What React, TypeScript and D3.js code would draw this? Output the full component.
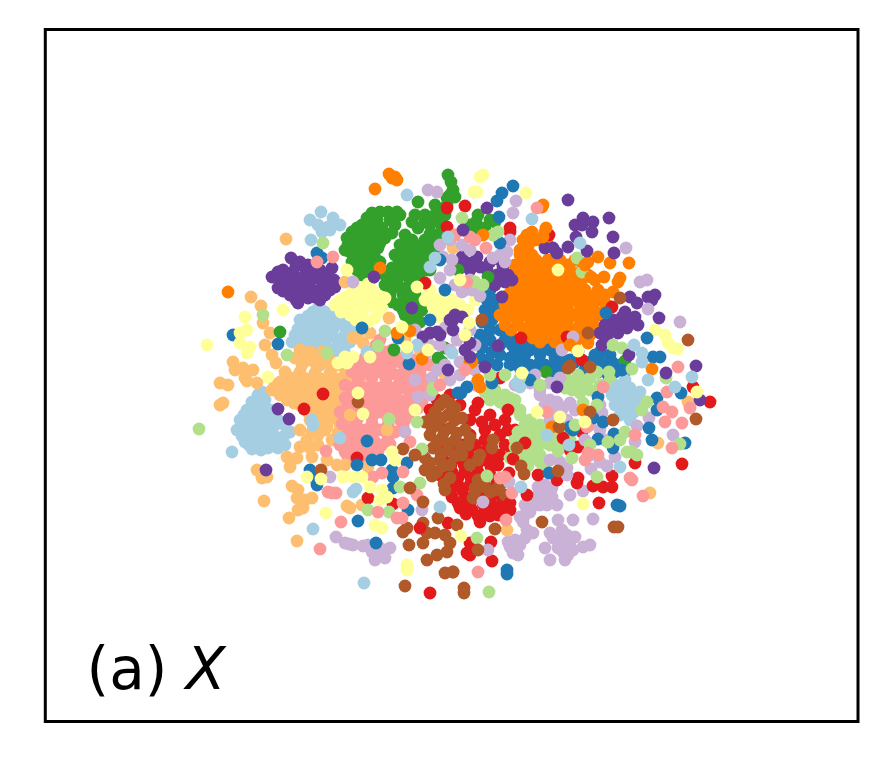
import React from "react";
import * as d3 from "d3";

type P = [number, number];

const lightBlueCore: P[] = [[321,212],[310,220],[318,225],[328,227],[340,225],[333,218],[322,232],[311,240],[330,230],
[313,312],[325,312],[303,325],[315,322],[328,322],[340,322],[295,335],[308,335],[320,335],[332,335],[345,335],[352,328],[300,345],[312,345],[325,345],[338,345],[350,342],[310,355],[322,355],[335,355],[320,365],[318,360],
[258,395],[265,400],[247,410],[258,410],[270,410],[240,420],[252,420],[265,420],[278,420],[285,425],[237,430],[248,432],[260,432],[272,432],[284,436],[245,442],[258,442],[270,442],[285,445],[249,445],[261,450],
[625,380],[615,385],[630,388],[640,392],[612,395],[625,398],[637,402],[615,405],[628,410],[620,415],[630,420],[634,412],
[319,306],[308,316],[320,317],[334,317],[346,322],[298,329],[310,328],[322,328],[334,328],[346,328],[302,338],[314,340],[326,340],[338,340],[350,335],[305,350],[318,350],[330,350],[344,350],[315,360],[328,360],[292,342],[300,320],
[252,402],[262,405],[244,415],[256,415],[268,415],[275,425],[246,426],[258,426],[270,426],[242,436],[254,437],[266,437],[278,438],[252,449],[268,448],[278,448],[290,432],[262,392],
[622,392],[633,395],[620,400],[630,404],[623,408],[612,390]];
const lightBlueStray: P[] = [[232,452],[313,529],[364,583],[353,492],[356,489],[340,438],[312,420],[313,425],[440,507],[407,195],[448,237],[367,352],[407,353],[417,345],[452,353],[430,267],[435,258],[532,219],[580,243],[634,345],[642,353],[642,362],[617,387],[648,380],[692,377],[675,387],[517,383],[520,387],[521,487],[569,445],[620,467],[547,435]];

const blueCore: P[] = [[490,290],[497,300],[485,310],[492,320],[500,330],[480,335],[490,340],[500,345],[510,335],[520,345],[530,350],[540,355],[550,350],[560,355],[500,355],[510,358],[520,360],[530,365],[545,365],[555,365],[570,360],[482,348],[492,352],[600,352],[610,355],[620,365],[605,368],[615,372],[600,362],[625,372],[585,370],[578,352],
[487,300],[492,310],[482,322],[490,330],[478,342],[505,340],[515,350],[525,355],[535,345],[545,345],[555,358],[565,365],[575,362],[510,365],[520,368],[535,372],[550,372],[505,325],[512,345],[497,365],[488,360],[480,358],[590,362],[598,372],[612,362],[608,375],[595,355],[560,370],[540,362],[525,345],[500,312],[490,278],[488,285]];
const blueStray: P[] = [[513,186],[502,193],[497,201],[499,217],[500,243],[606,313],[647,338],[653,357],[660,357],[622,370],[492,382],[530,380],[317,253],[322,258],[233,335],[278,344],[440,260],[430,320],[445,290],[362,328],[398,338],[409,364],[310,470],[317,485],[315,478],[357,465],[372,460],[381,460],[367,441],[392,470],[393,477],[393,488],[358,521],[407,463],[408,510],[376,543],[458,393],[507,574],[507,570],[620,506],[617,505],[573,430],[570,427],[598,397],[657,398],[657,410],[649,428],[652,440],[681,393],[614,434],[598,439],[593,418],[603,422],[613,448],[685,443],[549,473],[461,393],[467,387],[492,383]];

const lightGreenCore: P[] = [[485,392],[495,390],[505,395],[515,400],[490,400],[500,402],[520,415],[530,420],[540,425],[525,430],[535,435],[515,440],[530,445],[545,440],[520,455],[530,460],[540,455],[545,465],[550,445],[563,435],[570,440],[568,380],[578,375],[585,385],[572,390],[590,378],[565,388],[580,393],
[490,395],[500,396],[510,398],[525,425],[535,428],[518,432],[527,438],[538,445],[525,450],[535,452],[515,447],[510,458],[545,432],[555,442],[528,466],[540,462],[572,383],[582,380],[576,387],[566,383],[553,435],[560,445],[590,390],[600,385],[610,380],[520,410],[505,405],[512,403]];
const lightGreenStray: P[] = [[323,243],[263,315],[287,355],[327,353],[385,331],[378,346],[433,388],[199,429],[389,419],[417,422],[368,510],[389,512],[400,487],[420,483],[422,449],[433,390],[489,592],[487,476],[477,538],[572,458],[558,451],[597,477],[627,452],[637,455],[632,452],[642,410],[647,402],[625,432],[608,442],[583,403],[597,405],[680,444],[543,443],[550,440],[577,258],[582,272],[632,369],[613,345],[622,348],[609,372],[597,372],[493,235],[498,232],[462,218],[475,282],[483,285],[666,378],
[505,375],[520,378],[540,385],[490,375],[575,425],[590,445],[620,440]];

const greenCore: P[] = [[372,213],[380,212],[388,212],[397,212],[400,215],[362,225],[372,228],[382,228],[395,225],[352,232],[362,238],[372,238],[385,238],[348,245],[358,248],[368,248],[378,248],[345,250],[355,258],[365,258],[375,258],[360,268],[370,268],[362,275],[372,278],[352,262],
[418,202],[425,215],[435,205],[447,198],[415,215],[445,215],[405,235],[418,228],[430,225],[440,220],[400,245],[412,240],[425,240],[437,235],[395,255],[408,252],[420,252],[430,248],[398,265],[410,265],[422,262],[435,255],[392,275],[405,275],[418,275],[385,285],[398,285],[410,285],[390,295],[403,295],[415,295],[398,305],[410,305],[422,310],[405,315],[417,318],[430,270],
[448,175],[451,182],[453,190],[455,197],[447,205],[442,210],[450,195],
[476,222],[490,220],[478,215],[470,225],[485,228],[465,230],[475,232],[495,222],
[367,218],[377,220],[390,220],[357,228],[368,233],[380,233],[392,233],[347,238],[357,243],[368,243],[380,243],[350,252],[361,253],[372,253],[358,263],[368,263],[380,262],[365,270],[357,270],[412,222],[425,222],[435,215],[440,212],[408,243],[418,246],[430,234],[442,228],[402,252],[414,258],[426,257],[405,258],[402,270],[414,270],[426,270],[396,280],[410,280],[422,282],[393,288],[404,290],[416,288],[392,302],[404,300],[416,302],[403,310],[414,312],[410,322],[420,322],[392,268],[385,275],[432,240]];
const greenStray: P[] = [[280,332],[394,350],[442,362],[438,358],[445,348],[546,372],[625,361],[488,277],[458,270]];

const pinkCore: P[] = [[380,340],[370,352],[385,352],[398,358],[415,360],[360,365],[375,365],[390,368],[405,370],[420,372],[430,365],[358,378],[372,378],[386,380],[400,382],[415,385],[428,380],[352,392],[365,392],[380,392],[395,395],[410,395],[425,395],[348,405],[360,405],[375,405],[390,405],[405,408],[418,408],[345,418],[358,418],[372,418],[388,418],[400,420],[350,430],[365,430],[380,430],[395,432],[340,445],[352,442],[368,442],[382,445],[345,452],[360,452],[372,450],[348,458],
[376,345],[365,358],[378,358],[392,362],[408,364],[422,366],[352,372],[366,372],[380,372],[397,375],[410,377],[423,388],[345,385],[358,385],[372,385],[386,387],[402,388],[416,390],[345,398],[358,398],[372,398],[386,398],[402,401],[415,402],[340,412],[352,412],[365,412],[380,412],[395,412],[410,415],[342,424],[355,424],[372,424],[388,425],[405,420],[345,437],[358,437],[372,437],[388,438],[350,448],[365,447],[378,452],[352,458],[365,458],
[378,350],[392,350],[370,362],[385,362],[400,362],[415,366],[360,375],[372,375],[388,375],[403,375],[417,379],[352,388],[365,388],[379,388],[393,388],[409,388],[422,392],[352,402],[366,402],[380,402],[395,402],[409,402],[422,402],[350,415],[358,411],[372,411],[387,411],[403,414],[358,428],[372,428],[388,431],[403,427],[360,442],[375,442],[390,444]];
const pinkStray: P[] = [[333,257],[317,262],[326,451],[332,493],[336,493],[328,492],[341,522],[320,549],[378,512],[403,503],[397,518],[402,518],[373,477],[382,473],[403,472],[417,495],[410,442],[407,412],[478,572],[505,477],[500,478],[512,493],[506,520],[630,478],[632,480],[643,496],[588,453],[585,460],[598,455],[587,427],[547,412],[667,392],[663,407],[672,412],[665,422],[682,423],[672,448],[690,408],[635,435],[603,387],[678,367],[475,240],[470,237],[486,248],[537,208],[467,282],
[440,385],[465,370],[455,235]];

const redCore: P[] = [[450,450],[462,445],[475,445],[490,447],[500,455],[445,462],[458,458],[470,458],[485,460],[498,465],[440,475],[452,472],[465,472],[478,472],[490,475],[445,485],[458,485],[470,485],[482,487],[495,487],[452,497],[465,497],[478,497],[490,500],[505,505],[460,508],[472,510],[485,510],[498,515],[480,522],[505,510],
[437,400],[450,395],[460,405],[475,410],[490,415],[505,420],[515,430],[525,445],[500,435],[485,430],[430,410],[440,420],
[456,451],[468,452],[482,452],[494,455],[451,465],[464,465],[477,465],[491,467],[446,468],[458,478],[471,478],[484,480],[497,481],[450,490],[462,490],[476,491],[488,493],[500,495],[458,503],[470,503],[483,504],[496,507],[466,514],[478,516],[490,516],[507,497],[445,445],[444,430],[455,418],[470,420],[482,422],[495,425],[508,430],[470,435],[485,440],[430,420],[516,438],[505,445],[512,450]];
const redStray: P[] = [[304,409],[368,498],[393,504],[448,523],[430,593],[357,458],[323,394],[420,528],[492,561],[470,555],[467,553],[470,543],[491,542],[508,410],[478,403],[527,495],[510,510],[510,503],[497,507],[513,459],[509,473],[538,475],[557,480],[578,478],[577,483],[593,486],[603,487],[612,487],[612,476],[599,503],[682,464],[635,463],[710,402],[693,387],[563,438],[578,447],[582,432],[525,443],[510,228],[510,232],[549,235],[465,206],[521,338],[567,337],[612,307],[582,360],[500,378],[425,283],[447,208],[447,227],[570,450]];

const peachCore: P[] = [[295,358],[310,360],[325,362],[340,365],[355,368],[285,372],[300,372],[315,373],[330,373],[345,375],[360,380],[275,385],[290,385],[305,385],[320,385],[335,385],[350,385],[365,390],[280,395],[295,395],[310,395],[325,397],[340,395],[355,397],[370,395],[300,405],[315,405],[330,407],[345,405],[318,415],[332,418],[345,415],[325,430],[340,425],[300,430],[307,440],[300,447],[318,435],[327,427],[358,338],[370,333],[363,343],[353,338],
[302,365],[317,367],[332,368],[348,370],[292,378],[307,379],[322,379],[337,379],[352,379],[282,390],[297,390],[312,390],[327,391],[342,390],[358,391],[272,390],[287,400],[302,400],[317,400],[332,401],[348,400],[362,402],[308,412],[322,411],[338,411],[352,410],[310,420],[325,422],[338,433],[312,432],[332,440],[318,445],[310,448],[320,425],[280,382],[300,350],[310,352],[322,352],
[303,362],[318,362],[333,362],[348,362],[285,378],[300,378],[315,378],[330,378],[345,380],[283,385],[298,385],[312,385],[328,385],[343,385],[358,385],[288,393],[303,393],[318,393],[333,393],[348,393],[363,393],[294,403],[309,403],[324,403],[339,403],[354,403],[312,415],[325,415],[338,415],[352,415]];
const peachStray: P[] = [[389,318],[251,297],[261,306],[263,323],[270,333],[265,345],[272,355],[233,362],[235,370],[243,368],[253,370],[245,378],[220,383],[228,385],[257,383],[286,239],[345,282],[276,363],[220,405],[223,403],[247,381],[287,457],[297,458],[290,467],[312,457],[327,460],[337,465],[345,465],[257,470],[262,478],[267,477],[264,501],[292,486],[298,490],[297,498],[312,498],[305,500],[298,510],[289,518],[303,508],[297,541],[347,506],[350,508],[362,505],[368,467],[387,430],[350,415],[507,530],[650,493],[688,402],[658,443],[453,248],
[445,375],[405,340],[420,350]];

const orangeCore: P[] = [[527,235],[532,232],[528,247],[520,250],[545,232],[547,243],
[520,255],[532,255],[515,265],[528,265],[540,265],[555,265],[568,265],[512,275],[525,275],[538,275],[550,275],[562,275],[575,275],[588,275],[515,285],[528,285],[540,285],[552,285],[565,285],[578,285],
[508,295],[520,295],[532,295],[545,295],[557,295],[570,295],[582,295],[595,295],[605,295],[505,305],[518,305],[530,305],[542,305],[555,305],[567,305],[580,305],[592,305],[607,305],
[500,315],[512,315],[525,315],[538,315],[550,315],[562,315],[575,315],[587,315],[598,315],[505,325],[518,325],[530,325],[542,325],[555,325],[567,325],[580,325],[592,325],[525,335],[537,335],[550,335],[562,335],[575,335],[590,335],[540,342],[555,342],[575,342],
[521,270],[534,270],[546,270],[558,270],[570,270],[582,270],[518,280],[531,280],[544,280],[556,280],[568,280],[582,280],[595,280],[512,290],[524,290],[536,290],[548,290],[560,290],[572,290],[585,290],[598,290],[511,300],[524,300],[536,300],[548,300],[560,300],[573,300],[586,300],[598,300],[602,300],[508,310],[520,310],[532,310],[544,310],[556,310],[568,310],[581,310],[594,310],[605,310],[506,320],[518,320],[531,320],[544,320],[556,320],[568,320],[581,320],[593,320],[511,330],[524,330],[536,330],[548,330],[560,330],[572,330],[585,330],[598,330],[526,260],[536,260],[548,260],[560,260],[575,260],[523,240],[535,240],[540,240],[533,338],[545,338],[562,338],[580,338]];
const orangeStray: P[] = [[543,205],[542,207],[546,228],[543,237],[598,257],[588,262],[585,265],[610,263],[629,263],[591,277],[604,277],[620,278],[618,282],[613,292],[570,345],[588,343],[652,369],[375,189],[389,174],[395,177],[397,180],[392,178],[228,292],[380,268],[397,333],[410,331],[422,359],[472,362],[470,363],[483,235],[480,387],[478,380],[552,427],[583,410]];

const lilacCore: P[] = [[538,487],[552,488],[545,495],[533,500],[557,505],[547,505],[525,505],[520,517],[530,512],[523,522],[558,520],[573,520],[593,519],[570,495],[583,491],[533,533],[525,538],[508,542],[518,555],[510,547],[515,552],[550,533],[557,540],[567,535],[575,537],[565,543],[573,550],[565,560],[550,560],[545,548],[563,552],[590,545],[583,547],[363,546],[372,547],[380,548],[390,548],[375,560],[385,558],[378,555],[336,537],[345,543],[353,545],
[538,495],[545,485],[530,505],[540,505],[552,497],[525,515],[535,505],[527,530],[520,545],[515,540],[513,553],[553,538],[562,530],[570,542],[558,548],[568,555],[372,552],[383,552],[368,545],[349,544]];
const lilacStray: P[] = [[488,550],[483,502],[509,482],[567,475],[550,460],[560,462],[567,468],[591,469],[607,466],[615,457],[635,442],[673,435],[637,426],[649,418],[602,413],[550,400],[557,402],[570,403],[560,413],[540,390],[550,420],[567,420],[330,477],[422,510],[405,432],[418,397],[680,322],[647,280],[640,282],[626,248],[648,309],[516,201],[513,213],[510,240],[500,255],[507,252],[493,258],[462,292],[465,290],[457,340],[562,350],[550,383],[573,337],[428,190],[437,192],[353,282],[445,328],[432,378],[452,260],[443,257],
[540,395],[550,410],[563,408],[545,405],[530,383],[600,405],[450,270],[440,278],[472,290],[480,296],[440,345],[450,350],[460,362],[437,370],[425,355],[445,365],[460,375],[475,370],[430,395],[415,380],[590,455],[600,462],[515,385],[505,262],
[535,375],[560,378],[475,385],[450,380],[575,410],[590,425],[605,440],[585,440],[600,430],[470,330],[475,345],[415,330],[430,345],[455,285],[470,280],[450,240],[462,245],[470,250],[440,245]];

const purpleCore: P[] = [[291,258],[300,262],[308,265],[320,270],[332,268],[272,277],[283,270],[293,272],[305,275],[318,278],[330,278],[278,288],[288,285],[300,287],[312,290],[325,285],[335,287],[290,295],[300,297],[315,297],[325,295],[298,303],
[625,312],[635,317],[638,325],[613,320],[620,323],[627,328],[600,333],[610,330],[618,333],[602,345],[607,337],[630,297],[637,303],[648,297],[655,295],[652,300],
[462,257],[477,257],[467,263],[480,267],[487,270],[503,267],[508,275],[497,275],[512,280],[470,270],[545,248],[553,248],[557,253],[568,247],[575,225],[583,218],[593,222],[582,225],[592,232],[576,237],
[296,266],[306,270],[314,272],[326,274],[278,272],[287,278],[298,280],[310,282],[322,282],[334,280],[283,291],[294,291],[306,292],[318,291],[330,290],[296,300],[308,298],[320,300],[280,280],[630,322],[622,317],[615,328],[605,325],[460,268],[472,263],[490,262],[500,260],[505,282],[495,285]];
const purpleStray: P[] = [[374,277],[412,308],[430,333],[423,337],[437,332],[453,320],[448,370],[568,200],[609,218],[613,237],[614,253],[587,251],[659,318],[629,355],[696,366],[666,373],[502,297],[498,346],[463,230],[487,208],[450,320],[455,315],[462,317],[453,330],[470,343],[465,350],[470,357],[485,367],[557,387],[278,409],[289,419],[266,470],[654,468],[700,400],[440,335]];

const yellowCore: P[] = [[340,300],[352,293],[362,288],[372,290],[385,298],[345,308],[358,303],[370,303],[382,308],[350,315],[362,315],[375,318],[355,300],[378,312],[335,305],
[430,290],[440,298],[452,300],[460,305],[433,307],[445,310],[425,300],[455,315],[440,317],[468,310],[475,300],
[655,330],[665,335],[668,343],[673,348],[678,349],
[346,297],[358,295],[368,296],[378,296],[351,308],[364,309],[376,308],[356,320],[368,322],[368,284],[341,312],[436,303],[447,304],[458,310],[448,318],[438,312],[428,295]];
const yellowStray: P[] = [[483,175],[480,177],[477,192],[474,192],[526,193],[558,270],[578,351],[460,280],[469,323],[522,373],[207,345],[245,317],[247,330],[240,333],[240,343],[247,353],[250,347],[283,310],[268,377],[347,270],[345,357],[353,357],[338,363],[347,363],[407,347],[428,350],[417,287],[402,327],[370,357],[363,414],[358,393],[307,477],[321,479],[343,477],[353,477],[362,477],[370,487],[382,490],[380,500],[387,497],[326,513],[375,525],[382,528],[407,565],[407,570],[392,452],[395,460],[415,410],[461,536],[583,504],[537,412],[697,392],[585,422],[560,417],[465,335]];

const brownCore: P[] = [[445,400],[455,408],[435,412],[448,415],[462,418],[425,422],[438,425],[450,428],[465,430],[430,435],[442,438],[455,440],[468,445],[433,448],[448,450],[462,455],[425,458],[440,460],[450,465],[425,470],[437,472],[450,478],[445,490],[480,455],[470,465],[493,440],[492,448],[475,488],[485,487],[495,490],[505,495],[473,498],
[403,532],[407,528],[409,545],[423,523],[427,533],[435,533],[445,535],[450,543],[423,543],[447,552],[437,555],[427,560],
[450,404],[440,405],[442,418],[455,420],[432,418],[432,428],[444,432],[457,433],[470,438],[437,443],[449,444],[461,447],[441,454],[455,456],[430,463],[443,466],[432,476],[444,484],[478,460],[475,492],[490,492],[500,485],[478,480]];
const brownStray: P[] = [[445,573],[453,572],[405,586],[438,518],[403,449],[415,455],[358,402],[321,470],[410,488],[423,502],[464,588],[464,593],[453,572],[495,529],[542,522],[478,550],[457,525],[614,527],[618,527],[558,471],[524,474],[521,466],[517,448],[613,420],[696,419],[559,427],[590,412],[482,320],[688,340],[620,298],[588,333],[568,368],[570,366],[590,367]];

const layers: [P[], string][] = [
  [blueCore, "#1f78b4"], [lightBlueCore, "#a6cee3"], [peachCore, "#fdbf6f"],
  [pinkCore, "#fb9a99"], [greenCore, "#33a02c"], [redCore, "#e31a1c"], [orangeCore, "#ff7f00"],
  [brownCore, "#b15928"], [lightGreenCore, "#b2df8a"], [lilacCore, "#cab2d6"], [purpleCore, "#6a3d9a"], [yellowCore, "#ffff99"],
  [peachStray, "#fdbf6f"], [redStray, "#e31a1c"], [greenStray, "#33a02c"], [lilacStray, "#cab2d6"],
  [blueStray, "#1f78b4"], [lightGreenStray, "#b2df8a"], [orangeStray, "#ff7f00"], [pinkStray, "#fb9a99"],
  [purpleStray, "#6a3d9a"], [brownStray, "#b15928"], [lightBlueStray, "#a6cee3"], [yellowStray, "#ffff99"],
];

const frame = { left: 45.3, right: 858, top: 29.5, bottom: 721.5 };
const x = d3.scaleLinear().domain([45.3, 858]).range([frame.left, frame.right]);
const y = d3.scaleLinear().domain([29.5, 721.5]).range([frame.top, frame.bottom]);

export default function App() {
  return (
    <svg width={888} height={767} style={{ position: "absolute", left: 0, top: 0, display: "block", background: "#fff" }}>
      {layers.map(([pts, color], i) => (
        <g key={i} fill={color}>
          {pts.map((p, j) => (
            <circle key={j} cx={x(p[0])} cy={y(p[1])} r={6.4} />
          ))}
        </g>
      ))}
      <rect x={frame.left} y={frame.top} width={frame.right - frame.left} height={frame.bottom - frame.top} fill="none" stroke="#000" strokeWidth={3} />
      <text x={86.5} y={689} fontFamily="DejaVu Sans" fontSize={58} fill="#000">
        (a) <tspan fontStyle="italic">X</tspan>
      </text>
    </svg>
  );
}
